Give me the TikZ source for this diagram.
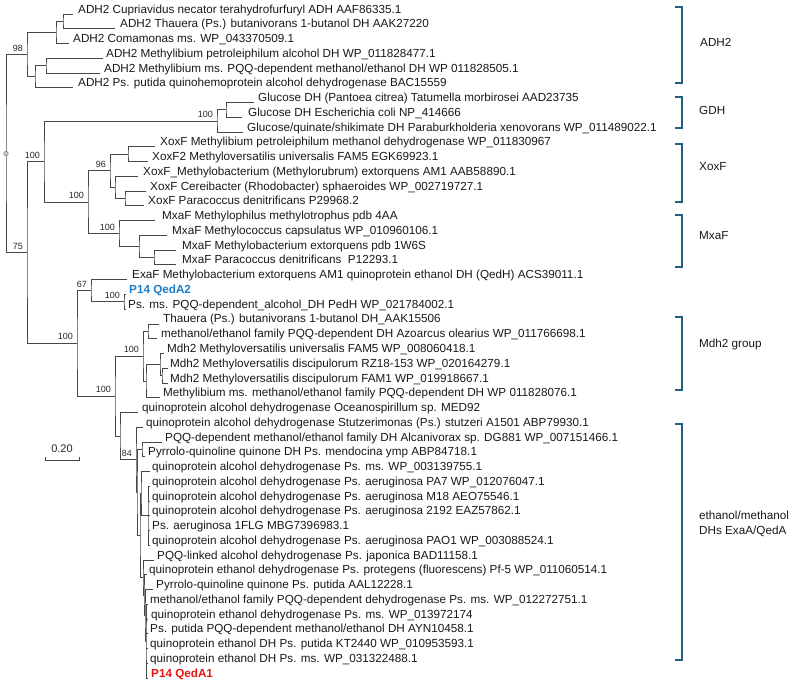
\documentclass[tikz,border=0pt]{standalone}
\usepackage{fontspec}
\setmainfont{Liberation Sans}
\usetikzlibrary{calc}
\definecolor{brk}{RGB}{35,95,125}
\definecolor{qblue}{RGB}{30,125,200}
\definecolor{qred}{RGB}{230,20,20}
\newcommand\LF[5]{\coordinate (#1) at (#2,{14+14.76*(#3-1)});\node[lab] (#1t) at (#4,{13+14.76*(#3-1)}) {#5};}
\newcommand\IN[4]{\path let \p1=(#3), \p2=(#4) in coordinate (#1) at (#2pt,{(\y1+\y2)/2});\draw[br] (#3) -| (#1) |- (#4);}
\newcommand\BS[2]{\node[bs] (b#1) at ([xshift=-4pt,yshift=3.5pt]#1) {#2};}
\newcommand\PL[2]{\draw[br] (#1 |- #2) -- (#2);}
\begin{document}
\begin{tikzpicture}[x=1pt,y=-1pt,
  br/.style={draw=black!72, line width=0.9pt},
  lab/.style={anchor=base west, inner sep=0pt, font=\fontsize{11.7}{13}\selectfont, text=black!90},
  bs/.style={anchor=base east, inner sep=0pt, font=\fontsize{9}{10}\selectfont, text=black!85},
  grp/.style={draw=brk, line width=1.6pt},
  grplab/.style={anchor=west, inner sep=0pt, font=\fontsize{11.7}{15}\selectfont, align=left, text=black!90}]
\useasboundingbox (0,0) rectangle (793,683);
% leaves
\LF{l1}{73}{1}{78}{ADH2 Cupriavidus necator terahydrofurfuryl ADH AAF86335.1}
\LF{l2}{115}{2}{120}{ADH2 Thauera (Ps.) butanivorans 1-butanol DH AAK27220}
\LF{l3}{69}{3}{73}{ADH2 Comamonas ms. WP\_043370509.1}
\LF{l4}{103}{4}{106}{ADH2 Methylibium petroleiphilum alcohol DH WP\_011828477.1}
\LF{l5}{100}{5}{104}{ADH2 Methylibium ms. PQQ-dependent methanol/ethanol DH WP 011828505.1}
\LF{l6}{73}{6}{78}{ADH2 Ps. putida quinohemoprotein alcohol dehydrogenase BAC15559}
\LF{l7}{254}{7}{258}{Glucose DH (Pantoea citrea) Tatumella morbirosei AAD23735}
\LF{l8}{242}{8}{248}{Glucose DH Escherichia coli NP\_414666}
\LF{l9}{243}{9}{247}{Glucose/quinate/shikimate DH Paraburkholderia xenovorans WP\_011489022.1}
\LF{l10}{155}{10}{160}{XoxF Methylibium petroleiphilum methanol dehydrogenase WP\_011830967}
\LF{l11}{148}{11}{152}{XoxF2 Methyloversatilis universalis FAM5 EGK69923.1}
\LF{l12}{138}{12}{143}{XoxF\_Methylobacterium (Methylorubrum) extorquens AM1 AAB58890.1}
\LF{l13}{146}{13}{150}{XoxF Cereibacter (Rhodobacter) sphaeroides WP\_002719727.1}
\LF{l14}{144}{14}{148}{XoxF Paracoccus denitrificans P29968.2}
\LF{l15}{155}{15}{162}{MxaF Methylophilus methylotrophus pdb 4AA}
\LF{l16}{167}{16}{172}{MxaF Methylococcus capsulatus WP\_010960106.1}
\LF{l17}{176}{17}{182}{MxaF Methylobacterium extorquens pdb 1W6S}
\LF{l18}{176}{18}{182}{MxaF Paracoccus denitrificans\ \ P12293.1}
\LF{l19}{127}{19}{132}{ExaF Methylobacterium extorquens AM1 quinoprotein ethanol DH (QedH) ACS39011.1}
\LF{l20}{126}{20}{129}{\textcolor{qblue}{\bfseries P14 QedA2}}
\LF{l21}{126}{21}{128}{Ps. ms. PQQ-dependent\_alcohol\_DH PedH WP\_021784002.1}
\LF{l22}{159}{22}{163}{Thauera (Ps.) butanivorans 1-butanol DH\_AAK15506}
\LF{l23}{157}{23}{161}{methanol/ethanol family PQQ-dependent DH Azoarcus olearius WP\_011766698.1}
\LF{l24}{164}{24}{167}{Mdh2 Methyloversatilis universalis FAM5 WP\_008060418.1}
\LF{l25}{168}{25}{170}{Mdh2 Methyloversatilis discipulorum RZ18-153 WP\_020164279.1}
\LF{l26}{168}{26}{170}{Mdh2 Methyloversatilis discipulorum FAM1 WP\_019918667.1}
\LF{l27}{160}{27}{163}{Methylibium ms. methanol/ethanol family PQQ-dependent DH WP 011828076.1}
\LF{l28}{138}{28}{142}{quinoprotein alcohol dehydrogenase Oceanospirillum sp. MED92}
\LF{l29}{143}{29}{146}{quinoprotein alcohol dehydrogenase Stutzerimonas (Ps.) stutzeri A1501 ABP79930.1}
\LF{l30}{162}{30}{165}{PQQ-dependent methanol/ethanol family DH Alcanivorax sp. DG881 WP\_007151466.1}
\LF{l31}{145}{31}{148}{Pyrrolo-quinoline quinone DH Ps. mendocina ymp ABP84718.1}
\LF{l32}{150}{32}{152}{quinoprotein alcohol dehydrogenase Ps. ms. WP\_003139755.1}
\LF{l33}{150}{33}{152}{quinoprotein alcohol dehydrogenase Ps. aeruginosa PA7 WP\_012076047.1}
\LF{l34}{150}{34}{152}{quinoprotein alcohol dehydrogenase Ps. aeruginosa M18 AEO75546.1}
\LF{l35}{150}{35}{152}{quinoprotein alcohol dehydrogenase Ps. aeruginosa 2192 EAZ57862.1}
\LF{l36}{150}{36}{152}{Ps. aeruginosa 1FLG MBG7396983.1}
\LF{l37}{150}{37}{152}{quinoprotein alcohol dehydrogenase Ps. aeruginosa PAO1 WP\_003088524.1}
\LF{l38}{154}{38}{157}{PQQ-linked alcohol dehydrogenase Ps. japonica BAD11158.1}
\LF{l39}{147}{39}{149}{quinoprotein ethanol dehydrogenase Ps. protegens (fluorescens) Pf-5 WP\_011060514.1}
\LF{l40}{153}{40}{156}{Pyrrolo-quinoline quinone Ps. putida AAL12228.1}
\LF{l41}{148}{41}{150}{methanol/ethanol family PQQ-dependent dehydrogenase Ps. ms. WP\_012272751.1}
\LF{l42}{148}{42}{151}{quinoprotein ethanol dehydrogenase Ps. ms. WP\_013972174}
\LF{l43}{148}{43}{150}{Ps. putida PQQ-dependent methanol/ethanol DH AYN10458.1}
\LF{l44}{148}{44}{150}{quinoprotein ethanol DH Ps. putida KT2440 WP\_010953593.1}
\LF{l45}{148}{45}{150}{quinoprotein ethanol DH Ps. ms. WP\_031322488.1}
\LF{l46}{148}{46}{151}{\textcolor{qred}{\bfseries P14 QedA1}}
% internal nodes
\IN{C}{63}{l1}{l2}
\IN{B}{56}{C}{l3}
\IN{E}{46}{l4}{l5}
\IN{D}{35}{E}{l6}
\IN{A}{27}{B}{D}
\IN{G1}{226}{l7}{l8}
\IN{G}{217}{G1}{l9}
\IN{X1}{128}{l10}{l11}
\IN{X3}{125}{l13}{l14}
\IN{X2}{115}{l12}{X3}
\IN{X}{110}{X1}{X2}
\IN{M2}{154}{l17}{l18}
\IN{M1}{139}{l16}{M2}
\IN{M}{119}{l15}{M1}
\IN{XM}{88}{X}{M}
\IN{GXM}{44}{G}{XM}
\IN{E1}{124}{l20}{l21}
\IN{N67}{91}{l19}{E1}
\IN{Md1}{148}{l22}{l23}
\IN{Md3}{162}{l25}{l26}
\IN{Md2}{160}{l24}{Md3}
\IN{MdB}{146}{Md2}{l27}
\IN{Md}{143}{Md1}{MdB}
\IN{Et4}{142}{l30}{l31}
\IN{Et6c}{148}{l33}{l37}
\PL{Et6c}{l34}\PL{Et6c}{l35}\PL{Et6c}{l36}
\IN{Et6}{141}{l32}{Et6c}
\IN{Et10}{146}{l41}{l46}
\PL{Et10}{l42}\PL{Et10}{l43}\PL{Et10}{l44}\PL{Et10}{l45}
\IN{Et9}{145}{l40}{Et10}
\IN{Et8}{144}{l39}{Et9}
\IN{Et7}{143}{l38}{Et8}
\IN{Y}{140}{Et6}{Et7}
\IN{Et3}{137}{Et4}{Y}
\IN{Et2}{136}{l29}{Et3}
\IN{Et}{120}{l28}{Et2}
\IN{Z}{115}{Md}{Et}
\IN{Q}{77}{N67}{Z}
\IN{R2}{27}{GXM}{Q}
\IN{R}{6}{A}{R2}
\draw[draw=gray, fill=gray!45, line width=0.5pt] (R) circle (2.3pt);
% bootstrap values
\BS{A}{98}\BS{R2}{75}\BS{GXM}{100}\BS{G}{100}\BS{XM}{100}\BS{X}{96}\BS{M}{100}
\BS{N67}{67}\BS{E1}{100}\BS{Q}{100}\BS{Z}{100}\BS{Md}{100}\BS{Et2}{84}
% scale bar
\coordinate (sb1) at (45,460); \coordinate (sb2) at (79,460);
\draw[br] ([yshift=3pt]sb1) -- (sb1) -- (sb2) -- ([yshift=3pt]sb2);
\node[bs, anchor=base] (sbt) at (62,452) {\fontsize{11}{12}\selectfont 0.20};
% groups
\draw[grp] (675,7) -- (682,7) -- (682,83) -- (675,83);
\node[grplab] (gADH2) at (700,42) {ADH2};
\draw[grp] (675,97) -- (682,97) -- (682,128) -- (675,128);
\node[grplab] (gGDH) at (699,110) {GDH};
\draw[grp] (675,144) -- (682,144) -- (682,202) -- (675,202);
\node[grplab] (gXoxF) at (699,167) {XoxF};
\draw[grp] (675,215) -- (682,215) -- (682,267) -- (675,267);
\node[grplab] (gMxaF) at (699,236) {MxaF};
\draw[grp] (675,317) -- (682,317) -- (682,390) -- (675,390);
\node[grplab] (gMdh2) at (699,344) {Mdh2 group};
\draw[grp] (675,424) -- (682,424) -- (682,660) -- (675,660);
\node[grplab] (gEt) at (699,523.5) {ethanol/methanol\\DHs ExaA/QedA};
\end{tikzpicture}
\end{document}
